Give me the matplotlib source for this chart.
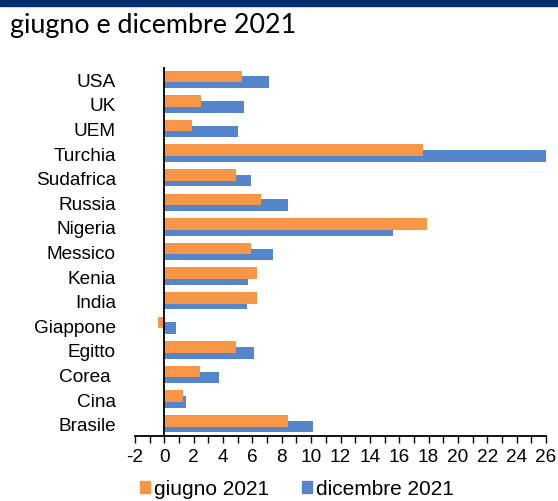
import matplotlib
matplotlib.use("Agg")
import matplotlib.pyplot as plt
import matplotlib.patches as mpatches
import numpy as np

categories = ["USA", "UK", "UEM", "Turchia", "Sudafrica", "Russia", "Nigeria",
              "Messico", "Kenia", "India", "Giappone", "Egitto", "Corea ", "Cina", "Brasile"]
giugno_2021 = [5.3, 2.5, 1.9, 17.6, 4.9, 6.6, 17.9, 5.9, 6.3, 6.3, -0.4, 4.9, 2.4, 1.25, 8.4]
dicembre_2021 = [7.1, 5.4, 5.0, 26.0, 5.9, 8.4, 15.6, 7.4, 5.7, 5.6, 0.8, 6.1, 3.7, 1.45, 10.1]
x_ticks = list(range(-2, 27, 2))

ORANGE = "#F79646"
BLUE = "#5586CC"
W, H = 558, 502
FS = 13.7
fig = plt.figure(figsize=(W / 100, H / 100), dpi=100)
fig.patches.append(mpatches.Rectangle((0, 1 - 7 / H), 1, 7 / H, transform=fig.transFigure,
                                      color="#002F6C", zorder=0))
fig.text(10 / W, 1 - 25 / H, "giugno e dicembre 2021", fontsize=19.4,
         family="Lato", va="center", ha="left")

ax = fig.add_axes([135 / W, 1 - 437 / H, (546 - 135) / W, (437 - 68) / H])
y = np.arange(len(categories))
h = 0.47
off = 0.12
ax.barh(y + off, dicembre_2021, height=h, color=BLUE, zorder=2, label="dicembre 2021")
ax.barh(y - off, giugno_2021, height=h, color=ORANGE, zorder=3, label="giugno 2021")
ax.set_xlim(-2, 26)
ax.set_ylim(len(categories) - 0.5, -0.5)
ax.axvline(0, color="black", lw=1.3, zorder=4)
for s in ["left", "right", "top"]:
    ax.spines[s].set_visible(False)
ax.spines["bottom"].set_color("black")
ax.spines["bottom"].set_linewidth(1.3)
ax.set_yticks(y, categories, family="Liberation Sans", fontsize=FS)
ax.tick_params(axis="y", length=0, pad=13.7)
ax.set_xticks(x_ticks, [str(v) for v in x_ticks], family="Liberation Sans", fontsize=FS)
ax.set_xticks(range(-2, 27), minor=True)
ax.tick_params(axis="x", which="both", direction="out", length=5, width=1, color="black", pad=4)

handles = [mpatches.Patch(color=ORANGE), mpatches.Patch(color=BLUE)]
fig.legend(handles, ["giugno 2021", "dicembre 2021"], loc="center", bbox_to_anchor=(297 / W, 1 - 490 / H),
           ncol=2, frameon=False, handlelength=0.48, handleheight=0.48, handletextpad=0.2,
           columnspacing=1.6, borderpad=0, prop={"family": "Liberation Sans", "size": 15})
fig.savefig("out.png", dpi=100)
